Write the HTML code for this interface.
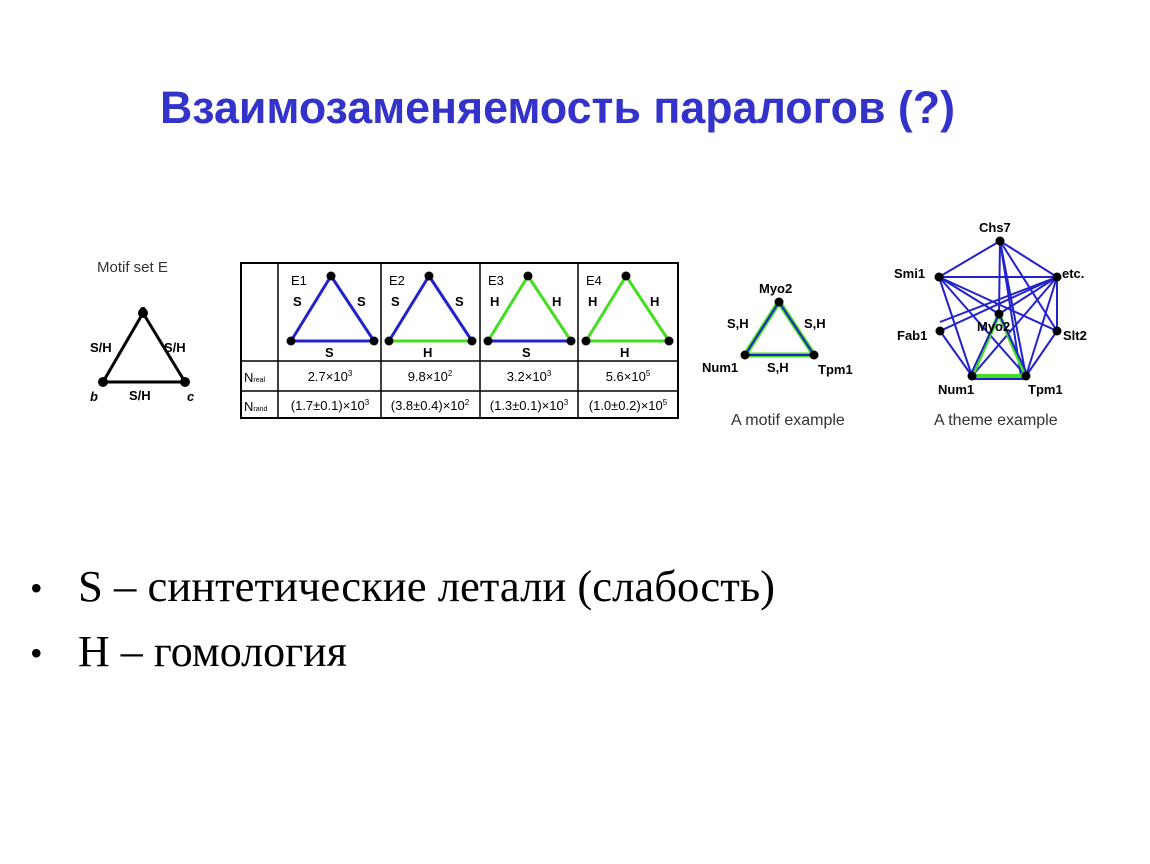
<!DOCTYPE html>
<html><head><meta charset="utf-8"><style>
html,body{margin:0;padding:0;background:#fff;}
svg{display:block}
.s{font-family:"Liberation Sans",sans-serif;}
.b{font-family:"Liberation Sans",sans-serif;font-weight:bold;font-size:13px;}
</style></head><body>
<svg width="1150" height="864" viewBox="0 0 1150 864" xmlns="http://www.w3.org/2000/svg">
<text x="160" y="123" textLength="795" lengthAdjust="spacingAndGlyphs" font-family="Liberation Sans, sans-serif" font-weight="bold" font-size="45" fill="#3333cc">Взаимозаменяемость паралогов (?)</text>

<!-- Motif set E -->
<text x="97" y="272" class="s" font-size="15" fill="#333">Motif set E</text>
<polyline points="143,313 103,382 185,382 143,313" fill="none" stroke="#000" stroke-width="3"/>
<circle cx="143" cy="313" r="5"/><circle cx="103" cy="382" r="5"/><circle cx="185" cy="382" r="5"/>
<text x="139" y="314" class="b" font-style="italic">a</text>
<text x="90" y="401" class="b" font-style="italic">b</text>
<text x="187" y="401" class="b" font-style="italic">c</text>
<text x="90" y="352" class="b">S/H</text>
<text x="164" y="352" class="b">S/H</text>
<text x="129" y="400" class="b">S/H</text>

<!-- Table -->
<g stroke="#000" fill="none">
<rect x="241" y="263" width="437" height="155" stroke-width="2"/>
<line x1="278" y1="263" x2="278" y2="418" stroke-width="1.5"/>
<line x1="381" y1="263" x2="381" y2="418" stroke-width="1.5"/>
<line x1="480" y1="263" x2="480" y2="418" stroke-width="1.5"/>
<line x1="578" y1="263" x2="578" y2="418" stroke-width="1.5"/>
<line x1="241" y1="361" x2="678" y2="361" stroke-width="1.5"/>
<line x1="241" y1="391" x2="678" y2="391" stroke-width="1.5"/>
</g>
<g>
<text x="291" y="285" class="s" font-size="13">E1</text>
<line x1="331" y1="276" x2="291" y2="341" stroke="#2222cc" stroke-width="3"/>
<line x1="331" y1="276" x2="374" y2="341" stroke="#2222cc" stroke-width="3"/>
<line x1="291" y1="341" x2="374" y2="341" stroke="#2222cc" stroke-width="3"/>
<circle cx="331" cy="276" r="4.5"/><circle cx="291" cy="341" r="4.5"/><circle cx="374" cy="341" r="4.5"/>
<text x="293" y="306" class="b">S</text><text x="357" y="306" class="b">S</text><text x="325" y="357" class="b">S</text>
</g>
<g transform="translate(98,0)">
<text x="291" y="285" class="s" font-size="13">E2</text>
<line x1="331" y1="276" x2="291" y2="341" stroke="#2222cc" stroke-width="3"/>
<line x1="331" y1="276" x2="374" y2="341" stroke="#2222cc" stroke-width="3"/>
<line x1="291" y1="341" x2="374" y2="341" stroke="#44dd22" stroke-width="3"/>
<circle cx="331" cy="276" r="4.5"/><circle cx="291" cy="341" r="4.5"/><circle cx="374" cy="341" r="4.5"/>
<text x="293" y="306" class="b">S</text><text x="357" y="306" class="b">S</text><text x="325" y="357" class="b">H</text>
</g>
<g transform="translate(197,0)">
<text x="291" y="285" class="s" font-size="13">E3</text>
<line x1="331" y1="276" x2="291" y2="341" stroke="#44dd22" stroke-width="3"/>
<line x1="331" y1="276" x2="374" y2="341" stroke="#44dd22" stroke-width="3"/>
<line x1="291" y1="341" x2="374" y2="341" stroke="#2222cc" stroke-width="3"/>
<circle cx="331" cy="276" r="4.5"/><circle cx="291" cy="341" r="4.5"/><circle cx="374" cy="341" r="4.5"/>
<text x="293" y="306" class="b">H</text><text x="355" y="306" class="b">H</text><text x="325" y="357" class="b">S</text>
</g>
<g transform="translate(295,0)">
<text x="291" y="285" class="s" font-size="13">E4</text>
<line x1="331" y1="276" x2="291" y2="341" stroke="#44dd22" stroke-width="3"/>
<line x1="331" y1="276" x2="374" y2="341" stroke="#44dd22" stroke-width="3"/>
<line x1="291" y1="341" x2="374" y2="341" stroke="#44dd22" stroke-width="3"/>
<circle cx="331" cy="276" r="4.5"/><circle cx="291" cy="341" r="4.5"/><circle cx="374" cy="341" r="4.5"/>
<text x="293" y="306" class="b">H</text><text x="355" y="306" class="b">H</text><text x="325" y="357" class="b">H</text>
</g>
<g class="s" font-size="13">
<text x="244" y="382">N<tspan font-size="7">real</tspan></text>
<text x="244" y="411">N<tspan font-size="7">rand</tspan></text>
<text x="330" y="381" text-anchor="middle">2.7×10<tspan font-size="8" dy="-5">3</tspan></text>
<text x="430" y="381" text-anchor="middle">9.8×10<tspan font-size="8" dy="-5">2</tspan></text>
<text x="529" y="381" text-anchor="middle">3.2×10<tspan font-size="8" dy="-5">3</tspan></text>
<text x="628" y="381" text-anchor="middle">5.6×10<tspan font-size="8" dy="-5">5</tspan></text>
<text x="330" y="410" text-anchor="middle">(1.7±0.1)×10<tspan font-size="8" dy="-5">3</tspan></text>
<text x="430" y="410" text-anchor="middle">(3.8±0.4)×10<tspan font-size="8" dy="-5">2</tspan></text>
<text x="529" y="410" text-anchor="middle">(1.3±0.1)×10<tspan font-size="8" dy="-5">3</tspan></text>
<text x="628" y="410" text-anchor="middle">(1.0±0.2)×10<tspan font-size="8" dy="-5">5</tspan></text>
</g>

<!-- Motif example -->
<polygon points="779,302 745,355 814,355" fill="none" stroke="#44dd22" stroke-width="5"/>
<polygon points="779,302 745,355 814,355" fill="none" stroke="#2222cc" stroke-width="2"/>
<circle cx="779" cy="302" r="4.5"/><circle cx="745" cy="355" r="4.5"/><circle cx="814" cy="355" r="4.5"/>
<text x="759" y="293" class="b">Myo2</text>
<text x="727" y="328" class="b">S,H</text>
<text x="804" y="328" class="b">S,H</text>
<text x="702" y="372" class="b">Num1</text>
<text x="767" y="372" class="b">S,H</text>
<text x="818" y="374" class="b">Tpm1</text>
<text x="731" y="425" class="s" font-size="16" fill="#333">A motif example</text>

<!-- Theme example -->
<g stroke="#2222cc" stroke-width="2">
<line x1="1000" y1="241" x2="939" y2="277"/>
<line x1="1000" y1="241" x2="1057" y2="277"/>
<line x1="1000" y1="241" x2="999" y2="314"/>
<line x1="1000" y1="241" x2="1026" y2="376"/>
<line x1="1000" y1="241" x2="1021" y2="376"/>
<line x1="1000" y1="241" x2="1057" y2="331"/>
<line x1="939" y1="277" x2="1057" y2="277"/>
<line x1="939" y1="277" x2="972" y2="376"/>
<line x1="939" y1="277" x2="1057" y2="331"/>
<line x1="939" y1="277" x2="1026" y2="376"/>
<line x1="939" y1="277" x2="999" y2="314"/>
<line x1="1057" y1="277" x2="940" y2="331"/>
<line x1="1057" y1="277" x2="999" y2="314"/>
<line x1="1057" y1="277" x2="972" y2="376"/>
<line x1="1057" y1="277" x2="1057" y2="331"/>
<line x1="1057" y1="277" x2="1026" y2="376"/>
<line x1="1057" y1="277" x2="940" y2="322"/>
<line x1="940" y1="331" x2="972" y2="376"/>
<line x1="1057" y1="331" x2="1026" y2="376"/>
<line x1="972" y1="379" x2="1026" y2="379"/>
</g>
<polygon points="999,314 972,376 1026,376" fill="none" stroke="#44dd22" stroke-width="4"/>
<line x1="999" y1="314" x2="970" y2="376" stroke="#2222cc" stroke-width="2"/>
<line x1="999" y1="314" x2="1028" y2="376" stroke="#2222cc" stroke-width="2"/>
<g>
<circle cx="1000" cy="241" r="4.5"/><circle cx="939" cy="277" r="4.5"/><circle cx="1057" cy="277" r="4.5"/>
<circle cx="940" cy="331" r="4.5"/><circle cx="999" cy="314" r="4.5"/><circle cx="1057" cy="331" r="4.5"/>
<circle cx="972" cy="376" r="4.5"/><circle cx="1026" cy="376" r="4.5"/>
</g>
<text x="979" y="232" class="b">Chs7</text>
<text x="894" y="278" class="b">Smi1</text>
<text x="1062" y="278" class="b">etc.</text>
<text x="897" y="340" class="b">Fab1</text>
<text x="977" y="331" class="b">Myo2</text>
<text x="1063" y="340" class="b">Slt2</text>
<text x="938" y="394" class="b">Num1</text>
<text x="1028" y="394" class="b">Tpm1</text>
<text x="934" y="425" class="s" font-size="16" fill="#333">A theme example</text>

<!-- bullets -->
<g font-family="Liberation Serif, serif" font-size="44" fill="#000">
<text x="30" y="600" font-size="36">•</text>
<text x="78" y="601" textLength="697" lengthAdjust="spacingAndGlyphs">S – синтетические летали (слабость)</text>
<text x="30" y="665" font-size="36">•</text>
<text x="78" y="666">H – гомология</text>
</g>
</svg>
</body></html>
